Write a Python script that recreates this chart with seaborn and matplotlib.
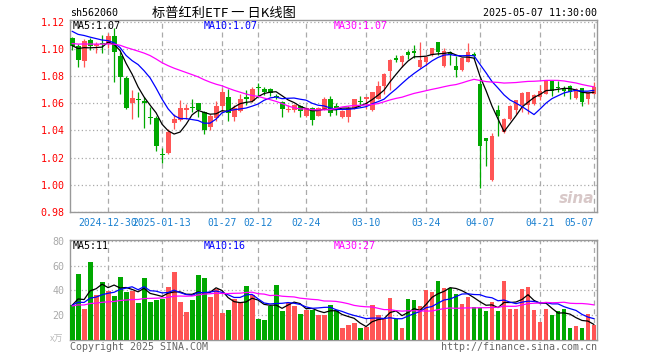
import matplotlib
matplotlib.use('Agg')
import numpy as np
import pandas as pd
import seaborn as sns
from matplotlib import pyplot as plt

# 标普红利ETF 日K线 (sh562060)
code = 'sh562060'
title = '标普红利ETF 一 日K线图'
stamp = '2025-05-07 11:30:00'

holidays = ['2025-01-01', '2025-01-28', '2025-01-29', '2025-01-30', '2025-01-31',
            '2025-02-03', '2025-02-04', '2025-04-04', '2025-05-01', '2025-05-02', '2025-05-05']
days = pd.bdate_range('2024-12-20', '2025-05-07')
days = days[~days.isin(pd.to_datetime(holidays))]

open_ = [1.108, 1.102, 1.091, 1.1066, 1.102, 1.1045, 1.1037, 1.1098, 1.0951, 1.0787,
         1.060, 1.0634, 1.0614, 1.0502, 1.0493, 1.0224, 1.0231, 1.0458, 1.0475, 1.0549,
         1.0575, 1.0602, 1.0539, 1.0429, 1.0493, 1.0583, 1.065, 1.0498, 1.0542, 1.065,
         1.062, 1.0716, 1.0706, 1.0706, 1.0657, 1.0608, 1.0547, 1.0547, 1.0579, 1.0503,
         1.0566, 1.051, 1.0552, 1.0633, 1.0579, 1.050, 1.050, 1.0568, 1.062, 1.0635,
         1.0547, 1.0635, 1.0728, 1.0836, 1.0931, 1.0907, 1.098, 1.0985, 1.0865, 1.0902,
         1.0956, 1.1054, 1.0873, 1.098, 1.0878, 1.0848, 1.0907, 1.0961, 1.0743, 1.0346,
         1.0032, 1.0547, 1.0392, 1.0486, 1.0553, 1.0584, 1.0584, 1.0597, 1.0645, 1.0668,
         1.0763, 1.0722, 1.0702, 1.073, 1.0636, 1.0709, 1.0633, 1.067]
high = [1.109, 1.104, 1.107, 1.108, 1.105, 1.110, 1.1115, 1.1155, 1.0976, 1.080,
        1.0695, 1.0683, 1.0646, 1.0573, 1.0507, 1.0268, 1.0414, 1.0524, 1.0622, 1.0597,
        1.0634, 1.0605, 1.0545, 1.0522, 1.062, 1.0713, 1.0706, 1.0584, 1.0669, 1.0699,
        1.0723, 1.0748, 1.0723, 1.0713, 1.0669, 1.062, 1.0584, 1.0596, 1.0591, 1.0571,
        1.0576, 1.0576, 1.0645, 1.0657, 1.0605, 1.0552, 1.0578, 1.0632, 1.0657, 1.065,
        1.0684, 1.0765, 1.0822, 1.0926, 1.0958, 1.0958, 1.0995, 1.1032, 1.1054, 1.0951,
        1.1007, 1.1054, 1.1005, 1.0985, 1.0951, 1.0935, 1.1044, 1.098, 1.078, 1.0346,
        1.0383, 1.0588, 1.0494, 1.0584, 1.0626, 1.0682, 1.0685, 1.067, 1.0731, 1.0766,
        1.0766, 1.0763, 1.073, 1.0738, 1.0713, 1.0711, 1.0685, 1.0759]
low = [1.0995, 1.087, 1.087, 1.0995, 1.097, 1.097, 1.1005, 1.0756, 1.067, 1.056,
       1.0488, 1.050, 1.042, 1.045, 1.0248, 1.0163, 1.0224, 1.0414, 1.0468, 1.0483,
       1.0537, 1.050, 1.0375, 1.0405, 1.0468, 1.0535, 1.0468, 1.0468, 1.0535, 1.0584,
       1.0608, 1.065, 1.0664, 1.0657, 1.0633, 1.0498, 1.0535, 1.0535, 1.0498, 1.0498,
       1.0437, 1.0503, 1.0547, 1.051, 1.0512, 1.049, 1.0466, 1.0555, 1.058, 1.0555,
       1.054, 1.063, 1.0669, 1.070, 1.0902, 1.0865, 1.0926, 1.0931, 1.086, 1.0873,
       1.0951, 1.0956, 1.0868, 1.0882, 1.0792, 1.0841, 1.0905, 1.0926, 0.9976, 1.0135,
       1.0025, 1.0358, 1.0385, 1.0479, 1.0523, 1.0535, 1.0523, 1.0584, 1.0621, 1.0665,
       1.0651, 1.068, 1.0657, 1.0633, 1.063, 1.0577, 1.0597, 1.0665]
close = [1.102, 1.0915, 1.106, 1.102, 1.1037, 1.1035, 1.1098, 1.0976, 1.0793, 1.0567,
         1.0639, 1.0626, 1.0605, 1.0495, 1.0285, 1.0217, 1.039, 1.0482, 1.0568, 1.0568,
         1.0568, 1.0553, 1.0407, 1.0503, 1.0583, 1.0682, 1.0527, 1.0566, 1.0628, 1.0633,
         1.0706, 1.0711, 1.0682, 1.0677, 1.065, 1.0559, 1.0557, 1.0584, 1.0542, 1.0564,
         1.0478, 1.0566, 1.0633, 1.0525, 1.0559, 1.054, 1.0566, 1.0628, 1.061, 1.0647,
         1.0682, 1.073, 1.0815, 1.0916, 1.0922, 1.0946, 1.0956, 1.0971, 1.0922, 1.0939,
         1.1007, 1.098, 1.0988, 1.0956, 1.0848, 1.0931, 1.0976, 1.0951, 1.0285, 1.0326,
         1.0358, 1.0503, 1.0486, 1.0577, 1.0621, 1.0675, 1.0682, 1.0658, 1.069, 1.0763,
         1.069, 1.0714, 1.0692, 1.0686, 1.0707, 1.0609, 1.0684, 1.0721]
volume = [28.6, 53.7, 25.4, 63, 36.4, 47, 39.8, 35.8, 51, 38.5,
          39.3, 30, 50, 30.5, 32.6, 33, 43, 55, 31, 23,
          32.6, 52.6, 49.7, 35, 41, 21.6, 24, 33.4, 31, 43.8,
          36.4, 16.8, 16, 27.3, 44.6, 23.3, 30, 27.8, 21.4, 24,
          24.6, 20, 20.6, 28.6, 24.6, 9.4, 11.8, 13.4, 9.4, 10.4,
          28.6, 20.6, 17.1, 34.2, 17.1, 9.4, 33.4, 32.6, 27.3, 40.6,
          38.5, 47.9, 42.2, 42.2, 37.4, 29.4, 35, 27, 25.7, 23.3,
          31, 23.8, 47.9, 25.4, 25.4, 41.4, 43, 24.6, 14.4, 25.4,
          20.6, 23.8, 25.4, 9.4, 11, 9.4, 21.1, 11.8]

# MA values at the first candle (history before the window)
price_ma_start = {5: 1.1025, 10: 1.113, 30: 1.104}
vol_ma_start = {5: 28, 10: 28, 30: 27.5}

tick_dates = ['2024-12-30', '2025-01-13', '2025-01-27', '2025-02-12', '2025-02-24',
              '2025-03-10', '2025-03-24', '2025-04-07', '2025-04-21', '2025-05-07']
tick_labels = ['2024-12-30', '2025-01-13', '01-27', '02-12', '02-24',
               '03-10', '03-24', '04-07', '04-21', '05-07']

price_legend = ['MA5:1.07', 'MA10:1.07', 'MA30:1.07']
vol_legend = ['MA5:11', 'MA10:16', 'MA30:27']

df = pd.DataFrame({'date': days, 'open': open_, 'high': high, 'low': low,
                   'close': close, 'vol': volume})
df['i'] = np.arange(len(df))
df['dir'] = np.where(df['close'] >= df['open'], 'up', 'down')


def moving_avg(s, n, start):
    # pad the unseen history with a flat level matching the first MA reading
    prior = (n * start - s.iloc[0]) / (n - 1)
    full = pd.concat([pd.Series([prior] * (n - 1)), s], ignore_index=True)
    return full.rolling(n).mean().iloc[n - 1:].to_numpy()


RED = '#ff5555'
GREEN = '#00a800'
ma_colors = ['black', '#0000ff', '#ff00ff']
pal = {'up': RED, 'down': GREEN}

sns.set_style('white')
plt.rcParams['font.family'] = ['DejaVu Sans Mono', 'Noto Sans CJK SC']
plt.rcParams['axes.unicode_minus'] = False

W, H = 660, 360
fig = plt.figure(figsize=(6.6, 3.6), dpi=100)
ax = fig.add_axes([70 / W, 1 - 212 / H, 527 / W, 192 / H])
axv = fig.add_axes([70 / W, 1 - 340 / H, 527 / W, 100 / H])

# candles
cols = df['dir'].map(pal)
ax.vlines(df['i'], df['low'], df['high'], colors=cols, lw=0.9, zorder=2)
body_lo = np.minimum(df['open'], df['close'])
body_h = np.maximum((df['close'] - df['open']).abs(), 0.0006)
ax.bar(df['i'], body_h, bottom=body_lo, width=0.82, color=cols, linewidth=0, zorder=3)

for n, c in zip([5, 10, 30], ma_colors):
    ma = moving_avg(df['close'], n, price_ma_start[n])
    sns.lineplot(x=df['i'], y=ma, color=c, lw=0.9, ax=ax, zorder=4)

# volume
sns.barplot(data=df, x='i', y='vol', hue='dir', palette=pal, native_scale=True,
            dodge=False, width=0.82, saturation=1, errorbar=None, legend=False,
            linewidth=0, ax=axv, zorder=3)
for n, c in zip([5, 10, 30], ma_colors):
    ma = moving_avg(df['vol'], n, vol_ma_start[n])
    sns.lineplot(x=df['i'], y=ma, color=c, lw=0.9, ax=axv, zorder=4)

tick_pos = [int(np.where(df['date'] == pd.Timestamp(d))[0][0]) for d in tick_dates]

for a in (ax, axv):
    a.set_xlim(-0.35, 87.5)
    a.set_xticks(tick_pos)
    a.set_xlabel('')
    a.set_ylabel('')
    a.xaxis.grid(True, color='#aaaaaa', linestyle=(0, (4, 3)), lw=0.9)
    a.yaxis.grid(True, color='#aaaaaa', linestyle=(0, (1, 2)), lw=0.9)
    a.set_axisbelow(True)
    for s in a.spines.values():
        s.set_color('#999999')
        s.set_linewidth(1)
    a.tick_params(length=0, pad=4)

ax.set_ylim(0.98, 1.1213)
yt = np.round(np.arange(0.98, 1.121, 0.02), 2)
ax.set_yticks(yt)
ax.set_yticklabels([f'{v:.2f}' for v in yt], color='red', fontsize=7.2)
ax.set_xticklabels(tick_labels, color='#1a80d0', fontsize=7)
lbls = ax.get_xticklabels()
lbls[-1].set_horizontalalignment('right')

axv.set_ylim(0, 80.8)
axv.set_yticks([0, 20, 40, 60, 80])
axv.set_yticklabels(['', '20', '40', '60', '80'], color='#aaaaaa', fontsize=7.2)
axv.set_xticklabels([])


def px(x, y, s, **kw):
    fig.text(x / W, 1 - y / H, s, va='center', **kw)


px(70, 13, code, fontsize=7.2, color='black')
px(224, 13, title, fontsize=9.5, ha='center', color='black',
   family=['Noto Sans CJK SC', 'DejaVu Sans'])
px(597, 13, stamp, fontsize=7.2, ha='right', color='black')

for x, s, c in zip([73, 204, 334], price_legend, ma_colors):
    px(x, 26, s, fontsize=7.2, color=c)
for x, s, c in zip([73, 204, 334], vol_legend, ma_colors):
    px(x, 246, s, fontsize=7.2, color=c)

px(63, 339, 'x万', fontsize=6.5, ha='right', color='#bbbbbb',
   family=['Noto Sans CJK SC', 'DejaVu Sans'])
px(70, 347, 'Copyright 2025 SINA.COM', fontsize=7.2, color='#666666')
px(597, 347, 'http://finance.sina.com.cn', fontsize=7.2, ha='right', color='#666666')
px(577, 198, 'sina', fontsize=11, ha='center', color='#d8c8c8', style='italic',
   weight='bold', family='DejaVu Sans')

fig.savefig('out.png', dpi=100)
